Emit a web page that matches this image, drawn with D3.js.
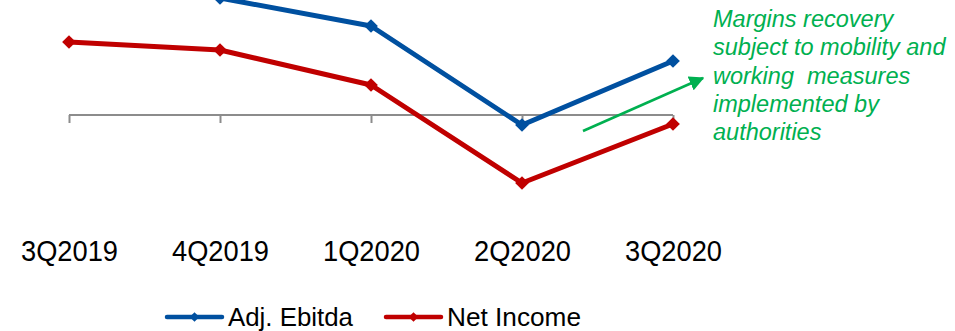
<!DOCTYPE html>
<html>
<head>
<meta charset="utf-8">
<script src="https://d3js.org/d3.v7.min.js"></script>
<style>
  body { margin: 0; background: #fff; }
  svg { display: block; font-family: "Liberation Sans", Arial, sans-serif; }
</style>
</head>
<body>
<div id="chart"></div>
<script>
// quarters on the x axis
var quarters = ["3Q2019", "4Q2019", "1Q2020", "2Q2020", "3Q2020"];
// margin values (%); axis line sits at 0
var adjEbitda = [27, 23.4, 17.8, -2.0, 10.8];
var netIncome = [14.6, 13.0, 6.0, -13.6, -1.8];
var seriesNames = ["Adj. Ebitda", "Net Income"];
var seriesColors = ["#0050a0", "#c00000"];
var noteLines = ["Margins recovery", "subject to mobility and", "working  measures", "implemented by", "authorities"];

var width = 955, height = 331;

var svg = d3.select("#chart").append("svg")
    .attr("width", width)
    .attr("height", height);

// scales
var x = d3.scalePoint().domain(quarters).range([69, 673]);
var y = d3.scaleLinear().domain([0, 20]).range([115, 15]);

// horizontal axis at zero, ticks pointing down, labels drawn separately
var axis = svg.append("g")
    .attr("transform", "translate(0," + y(0) + ")")
    .call(d3.axisBottom(x).tickSize(8).tickSizeOuter(0).tickFormat(""));
axis.select(".domain").attr("stroke", "#8c8c8c").attr("stroke-width", 2)
    .attr("d", "M" + x(quarters[0]) + ",0H" + x(quarters[quarters.length - 1]));
axis.selectAll(".tick line").attr("stroke", "#8c8c8c").attr("stroke-width", 2);

// category labels well below the plot (font is a bit condensed in the original)
svg.append("g").selectAll("text")
    .data(quarters)
  .enter().append("text")
    .attr("x", function(d) { return x(d) - 48; })
    .attr("y", 261)
    .attr("font-size", 29)
    .attr("textLength", 97)
    .attr("lengthAdjust", "spacingAndGlyphs")
    .attr("fill", "#000")
    .text(function(d) { return d; });

var diamond = d3.symbol().type(d3.symbolDiamond2).size(120);

var series = [adjEbitda, netIncome];
var line = d3.line()
    .x(function(d, i) { return x(quarters[i]); })
    .y(function(d) { return y(d); });

series.forEach(function(vals, k) {
  svg.append("path")
    .datum(vals)
    .attr("fill", "none")
    .attr("stroke", seriesColors[k])
    .attr("stroke-width", 5)
    .attr("stroke-linejoin", "round")
    .attr("d", line);

  svg.append("g").selectAll("path")
      .data(vals)
    .enter().append("path")
      .attr("d", diamond)
      .attr("fill", seriesColors[k])
      .attr("transform", function(d, i) {
        return "translate(" + x(quarters[i]) + "," + y(d) + ")";
      });
});

// green arrow + note
var green = "#00b050";
svg.append("defs").append("marker")
    .attr("id", "arrow")
    .attr("viewBox", "0 0 10 10")
    .attr("refX", 9).attr("refY", 5)
    .attr("markerWidth", 6).attr("markerHeight", 6)
    .attr("markerUnits", "strokeWidth")
    .attr("orient", "auto")
  .append("path")
    .attr("d", "M0,0L10,5L0,10Z")
    .attr("fill", green);

svg.append("line")
    .attr("x1", 583).attr("y1", 131)
    .attr("x2", 703).attr("y2", 78)
    .attr("stroke", green)
    .attr("stroke-width", 2.5)
    .attr("marker-end", "url(#arrow)");

svg.append("text")
    .attr("x", 713)
    .attr("y", 27)
    .attr("font-size", 23.5)
    .attr("font-style", "italic")
    .attr("fill", green)
    .style("white-space", "pre")
  .selectAll("tspan")
    .data(noteLines)
  .enter().append("tspan")
    .attr("x", 713)
    .attr("dy", function(d, i) { return i ? 28.3 : 0; })
    .text(function(d) { return d; });

// legend
var legendX = [167, 386];
var legendW = [125, 134];
var legend = svg.append("g").selectAll("g")
    .data(seriesNames)
  .enter().append("g")
    .attr("transform", function(d, i) { return "translate(" + legendX[i] + ",317)"; });

legend.append("line")
    .attr("x1", 0).attr("x2", 55)
    .attr("stroke", function(d, i) { return seriesColors[i]; })
    .attr("stroke-width", 4.5)
    .attr("stroke-linecap", "round");
legend.append("path")
    .attr("d", d3.symbol().type(d3.symbolDiamond2).size(60))
    .attr("transform", "translate(27.5,0)")
    .attr("fill", function(d, i) { return seriesColors[i]; });
legend.append("text")
    .attr("x", 61)
    .attr("y", 8.5)
    .attr("font-size", 26)
    .attr("textLength", function(d, i) { return legendW[i]; })
    .attr("lengthAdjust", "spacingAndGlyphs")
    .attr("fill", "#000")
    .text(function(d) { return d; });
</script>
</body>
</html>
